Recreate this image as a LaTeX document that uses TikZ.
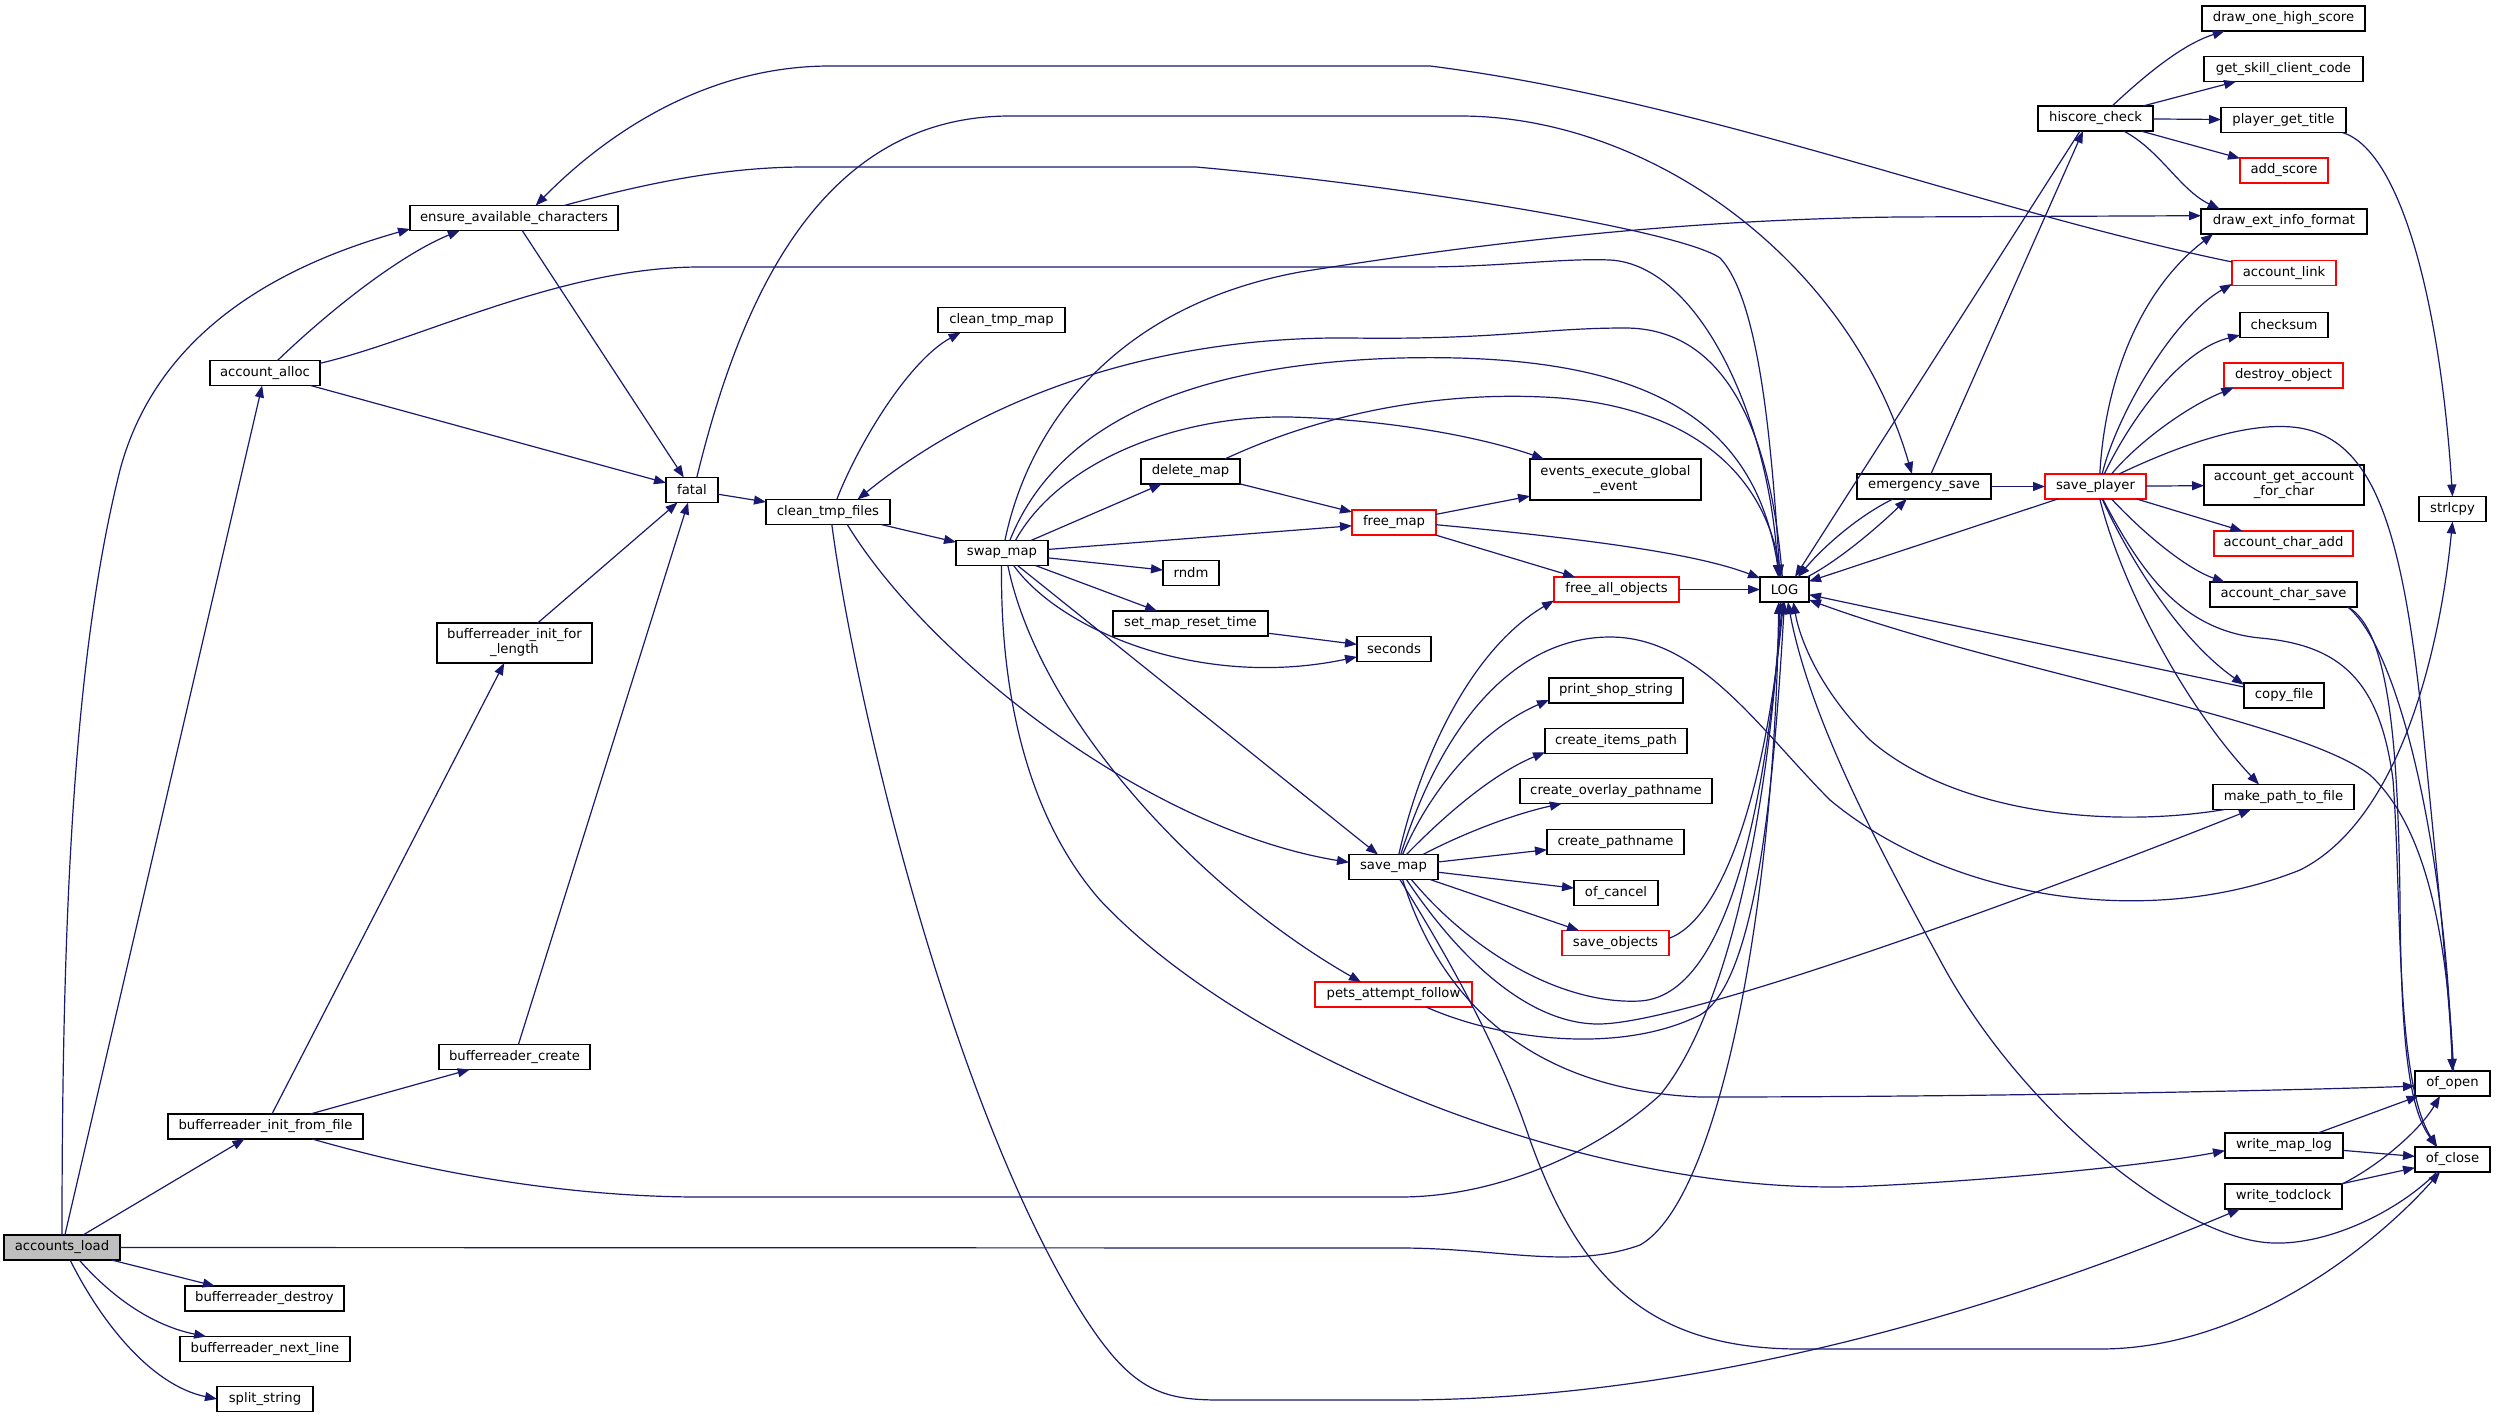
\documentclass[tikz,border=0pt]{standalone}
\usepackage{fontspec}
\newfontfamily\dvs{DejaVu Sans}
\usetikzlibrary{arrows.meta}
\definecolor{edgecol}{HTML}{191970}
\definecolor{boxgray}{HTML}{BFBFBF}
\definecolor{boxred}{HTML}{FF0000}
\tikzset{
 fnbox/.style={draw=black, line width=0.7pt, fill=white, rectangle, inner sep=0pt, outer sep=0pt, minimum height=12.5pt, align=center, font=\dvs\fontsize{6.6}{7.5}\selectfont},
 fnred/.style={fnbox, draw=boxred},
 call/.style={draw=edgecol, line width=0.6pt, -{Triangle[length=6pt,width=4.5pt]}},
}
\begin{document}
\begin{tikzpicture}[x=0.5pt,y=-0.5pt]
\useasboundingbox (0,0) rectangle (2496,1419);
\fill[white] (0,0) rectangle (2496,1419);
% nodes
\node[fnbox, fill=boxgray, minimum width=58pt] (AL) at (62,1247.5) {accounts\_load};
\node[fnbox, minimum width=55pt] (AA) at (265,373) {account\_alloc};
\node[fnbox, minimum width=104pt] (EAC) at (514,218) {ensure\_available\_characters};
\node[fnbox, minimum width=26pt] (FA) at (692,490) {fatal};
\node[fnbox, minimum width=77.5pt, minimum height=20pt] (BIL) at (514.5,643) {bufferreader\_init\_for\\\_length};
\node[fnbox, minimum width=75.5pt] (BC) at (514.5,1057) {bufferreader\_create};
\node[fnbox, minimum width=97.5pt] (BIF) at (265.5,1126.5) {bufferreader\_init\_from\_file};
\node[fnbox, minimum width=79.5pt] (BD) at (264.5,1298.5) {bufferreader\_destroy};
\node[fnbox, minimum width=85pt] (BN) at (265,1349) {bufferreader\_next\_line};
\node[fnbox, minimum width=48pt] (SS) at (265,1399) {split\_string};
\node[fnbox, minimum width=62pt] (CTF) at (828,512) {clean\_tmp\_files};
\node[fnbox, minimum width=63.5pt] (CTM) at (1001.5,320) {clean\_tmp\_map};
\node[fnbox, minimum width=46pt] (SWM) at (1002,553) {swap\_map};
\node[fnbox, minimum width=49.5pt] (DM) at (1190.5,471.5) {delete\_map};
\node[fnbox, minimum width=85.5pt, minimum height=20.5pt] (EEG) at (1615.5,479.5) {events\_execute\_global\\\_event};
\node[fnred, minimum width=42pt] (FM) at (1394,522.5) {free\_map};
\node[fnbox, minimum width=28pt] (RN) at (1191,573) {rndm};
\node[fnbox, minimum width=77.5pt] (SMR) at (1190.5,623.5) {set\_map\_reset\_time};
\node[fnbox, minimum width=37pt] (SEC) at (1394,649) {seconds};
\node[fnred, minimum width=62.5pt] (FAO) at (1616.5,589.5) {free\_all\_objects};
\node[fnbox, minimum width=67pt] (PSS) at (1616,690.5) {print\_shop\_string};
\node[fnbox, minimum width=71pt] (CIP) at (1616,741) {create\_items\_path};
\node[fnbox, minimum width=96pt] (COP) at (1616,791) {create\_overlay\_pathname};
\node[fnbox, minimum width=68.5pt] (CP) at (1615.5,842) {create\_pathname};
\node[fnbox, minimum width=42pt] (OC) at (1616,893) {of\_cancel};
\node[fnred, minimum width=53.5pt] (SO) at (1615.5,943) {save\_objects};
\node[fnbox, minimum width=44.5pt] (SM) at (1393.5,867) {save\_map};
\node[fnred, minimum width=78.5pt] (PAF) at (1393.5,994.5) {pets\_attempt\_follow};
\node[fnbox, minimum width=24.5pt] (LOG) at (1784.5,589.5) {LOG};
\node[fnbox, minimum width=67pt] (ES) at (1924,486.5) {emergency\_save};
\node[fnbox, minimum width=57.5pt] (HC) at (2095.5,118.5) {hiscore\_check};
\node[fnred, minimum width=50.5pt] (SP) at (2095.5,486.5) {save\_player};
\node[fnbox, minimum width=81.5pt] (DOHS) at (2283.5,18.5) {draw\_one\_high\_score};
\node[fnbox, minimum width=79.5pt] (GSCC) at (2283.5,69) {get\_skill\_client\_code};
\node[fnbox, minimum width=62.5pt] (PGT) at (2283.5,120) {player\_get\_title};
\node[fnred, minimum width=44pt] (ADS) at (2284,170.5) {add\_score};
\node[fnbox, minimum width=83pt] (DEIF) at (2284,221.5) {draw\_ext\_info\_format};
\node[fnred, minimum width=52pt] (ALK) at (2284,273) {account\_link};
\node[fnbox, minimum width=44pt] (CS) at (2284,325) {checksum};
\node[fnred, minimum width=59.5pt] (DO) at (2283.5,375.5) {destroy\_object};
\node[fnbox, minimum width=80pt, minimum height=20pt] (AGA) at (2284,485) {account\_get\_account\\\_for\_char};
\node[fnred, minimum width=69.5pt] (ACA) at (2283.5,543.5) {account\_char\_add};
\node[fnbox, minimum width=73.5pt] (ACS) at (2283.5,594.5) {account\_char\_save};
\node[fnbox, minimum width=40pt] (CF) at (2284,695.5) {copy\_file};
\node[fnbox, minimum width=70.5pt] (MPF) at (2283.5,797) {make\_path\_to\_file};
\node[fnbox, minimum width=59pt] (WML) at (2284,1145.5) {write\_map\_log};
\node[fnbox, minimum width=58.5pt] (WTC) at (2283.5,1196.5) {write\_todclock};
\node[fnbox, minimum width=33.5pt] (STR) at (2452.5,509) {strlcpy};
\node[fnbox, minimum width=37.5pt] (OO) at (2452.5,1083.5) {of\_open};
\node[fnbox, minimum width=37.5pt] (OCL) at (2452.5,1159.5) {of\_close};
% edges from accounts_load
\draw[call] (AL) -- (AA);
\draw[call] (AL.north) .. controls (62,900) and (75,650) .. (120,470) .. controls (160,320) and (300,260) .. (EAC.186);
\draw[call] (AL) -- (BIF);
\draw[call] (AL.east) -- (1400,1248) .. controls (1500,1248) and (1570,1270) .. (1640,1245) .. controls (1720,1200) and (1775,900) .. (LOG.-115);
\draw[call] (AL) -- (BD);
\draw[call] (AL.-36) .. controls (110,1295) and (150,1325) .. (BN.168);
\draw[call] (AL.-57) .. controls (100,1320) and (150,1385) .. (SS.west);
% account_alloc
\draw[call] (AA.45) .. controls (330,310) and (400,255) .. (EAC.193);
\draw[call] (AA) -- (FA);
\draw[call] (AA.10) .. controls (420,340) and (560,267) .. (700,267) -- (1420,267) .. controls (1500,267) and (1560,258) .. (1610,260) .. controls (1700,265) and (1770,420) .. (LOG.117);
% ensure_available_characters
\draw[call] (EAC) -- (FA);
\draw[call] (EAC.14) .. controls (640,185) and (720,167) .. (805,167) -- (1196,167) .. controls (1400,185) and (1680,230) .. (1720,258) .. controls (1760,300) and (1772,450) .. (LOG.110);
% fatal
\draw[call] (FA) -- (CTF);
\draw[call] (FA.69) .. controls (740,300) and (820,116) .. (1010,116) -- (1460,116) .. controls (1650,116) and (1850,260) .. (ES.134);
% bufferreader
\draw[call] (BIL) -- (FA);
\draw[call] (BIF) -- (BIL);
\draw[call] (BIF) -- (BC);
\draw[call] (BIF.-15) .. controls (420,1170) and (560,1197) .. (700,1197) -- (1400,1197) .. controls (1500,1197) and (1600,1150) .. (1660,1095) .. controls (1730,1010) and (1770,800) .. (LOG.-108);
\draw[call] (BC) -- (FA);
% clean_tmp_files
\draw[call] (CTF.55) .. controls (860,440) and (910,360) .. (CTM.197);
\draw[call] (CTF) -- (SWM);
\draw[call] (CTF.-33) .. controls (930,660) and (1150,830) .. (SM.174);
\draw[call] (CTF.-73) .. controls (855,700) and (950,1100) .. (1080,1310) .. controls (1130,1390) and (1160,1400) .. (1220,1400) -- (1400,1400) .. controls (1700,1400) and (2000,1310) .. (WTC.196);
% swap_map
\draw[call] (SWM) -- (DM);
\draw[call] (SWM) -- (FM);
\draw[call] (SWM) -- (RN);
\draw[call] (SWM) -- (SMR);
\draw[call] (SWM.-47) .. controls (1060,630) and (1200,690) .. (SEC.192);
\draw[call] (SWM) -- (SM);
\draw[call] (SWM.-65) .. controls (1040,720) and (1200,890) .. (PAF.159);
\draw[call] (SWM.-92) .. controls (1000,700) and (1030,820) .. (1100,900) .. controls (1250,1060) and (1600,1200) .. (1870,1186) .. controls (2000,1180) and (2150,1165) .. (WML.185);
\draw[call] (SWM.58) .. controls (1050,440) and (1160,365) .. (1400,358) .. controls (1650,352) and (1755,420) .. (LOG.112);
\draw[call] (SWM.43) .. controls (1060,460) and (1180,415) .. (1290,417) .. controls (1400,420) and (1490,440) .. (EEG.164);
\draw[call] (SWM.77) .. controls (1030,420) and (1120,305) .. (1300,272) .. controls (1500,240) and (1700,219) .. (1900,217) -- (DEIF.176);
% delete_map, free_map
\draw[call] (DM) -- (FM);
\draw[call] (DM.20) .. controls (1330,410) and (1450,390) .. (1560,398) .. controls (1700,410) and (1765,480) .. (LOG.105);
\draw[call] (FM) -- (EEG);
\draw[call] (FM) -- (FAO);
\draw[call] (FM.-3) .. controls (1600,540) and (1700,555) .. (LOG.155);
\draw[call] (FAO) -- (LOG);
\draw[call] (SMR) -- (SEC);
% save_map
\draw[call] (SM.67) .. controls (1420,760) and (1470,650) .. (FAO.190);
\draw[call] (SM.60) .. controls (1450,700) and (1530,637) .. (1610,637) .. controls (1700,637) and (1760,730) .. (1830,800) .. controls (1950,900) and (2150,930) .. (2300,870) .. controls (2400,820) and (2440,650) .. (STR.south);
\draw[call] (SM.54) .. controls (1430,790) and (1480,730) .. (PSS.188);
\draw[call] (SM.44) .. controls (1440,820) and (1490,775) .. (CIP.189);
\draw[call] (SM.23) .. controls (1460,835) and (1510,815) .. (COP.193);
\draw[call] (SM) -- (CP);
\draw[call] (SM) -- (OC);
\draw[call] (SM) -- (SO);
\draw[call] (SM.-35) .. controls (1470,950) and (1560,1005) .. (1640,1001) .. controls (1740,995) and (1770,750) .. (LOG.-100);
\draw[call] (SM.-44) .. controls (1460,960) and (1530,1025) .. (1600,1024) .. controls (1700,1022) and (2100,870) .. (MPF.201);
\draw[call] (SM.-54) .. controls (1440,1000) and (1530,1090) .. (1700,1097) .. controls (2000,1097) and (2300,1090) .. (OO.184);
\draw[call] (SM.-63) .. controls (1450,960) and (1500,1050) .. (1530,1140) .. controls (1580,1280) and (1650,1349) .. (1800,1349) -- (2100,1349) .. controls (2250,1349) and (2380,1240) .. (OCL.225);
\draw[call] (SO.5) .. controls (1720,920) and (1765,800) .. (LOG.-95);
\draw[call] (PAF.-21) .. controls (1500,1040) and (1620,1055) .. (1700,1015) .. controls (1760,980) and (1775,760) .. (LOG.-90);
% LOG and emergency_save
\draw[call] (LOG.100) .. controls (1770,420) and (1720,328) .. (1625,328) .. controls (1540,328) and (1500,340) .. (1350,338) .. controls (1150,336) and (980,400) .. (CTF.23);
\draw[call] (LOG.29) .. controls (1840,560) and (1880,525) .. (ES.216);
\draw[call] (ES.202) .. controls (1860,515) and (1825,545) .. (LOG.43);
\draw[call] (ES) -- (SP);
\draw[call] (ES.61) -- (HC.225);
% hiscore_check
\draw[call] (HC.219) -- (LOG.50);
\draw[call] (HC.37) .. controls (2140,80) and (2180,45) .. (DOHS.192);
\draw[call] (HC) -- (GSCC);
\draw[call] (HC) -- (PGT);
\draw[call] (HC) -- (ADS);
\draw[call] (HC.-24) .. controls (2160,150) and (2180,190) .. (DEIF.169);
\draw[call] (PGT.-12) .. controls (2400,150) and (2440,300) .. (STR.north);
% save_player
\draw[call] (SP) -- (LOG);
\draw[call] (SP.71) .. controls (2105,380) and (2140,290) .. (DEIF.190);
\draw[call] (SP.62) .. controls (2115,420) and (2170,320) .. (ALK.192);
\draw[call] (SP.55) .. controls (2130,420) and (2180,350) .. (CS.193);
\draw[call] (SP.38) .. controls (2140,440) and (2190,405) .. (DO.194);
\draw[call] (SP) -- (AGA);
\draw[call] (SP) -- (ACA);
\draw[call] (SP.-38) .. controls (2150,540) and (2190,570) .. (ACS.168);
\draw[call] (SP.-62) .. controls (2130,560) and (2180,640) .. (CF.165);
\draw[call] (SP.-71) .. controls (2120,580) and (2180,700) .. (MPF.153);
\draw[call] (SP.28) .. controls (2180,445) and (2250,420) .. (2300,428) .. controls (2370,440) and (2400,520) .. (2420,700) .. controls (2435,850) and (2450,1000) .. (OO.north);
\draw[call] (SP.-60) .. controls (2140,570) and (2180,630) .. (2260,638) .. controls (2340,645) and (2380,680) .. (2393,780) .. controls (2402,900) and (2395,1080) .. (OCL.141);
% account_char_save
\draw[call] (ACS.-11) .. controls (2400,650) and (2445,850) .. (OO.north);
\draw[call] (ACS.-11) .. controls (2390,630) and (2398,750) .. (2400,900) .. controls (2401,1050) and (2410,1110) .. (OCL.141);
% others into LOG
\draw[call] (CF) -- (LOG);
\draw[call] (MPF.192) .. controls (2100,830) and (1950,810) .. (1870,740) .. controls (1820,690) and (1800,640) .. (LOG.-55);
\draw[call] (OO.85) .. controls (2448,950) and (2430,830) .. (2370,775) .. controls (2300,720) and (2000,670) .. (LOG.-23);
\draw[call] (OCL.219) .. controls (2400,1210) and (2330,1245) .. (2273,1243) .. controls (2180,1240) and (2020,1110) .. (1940,960) .. controls (1880,850) and (1810,720) .. (LOG.-75);
% write_*
\draw[call] (WML) -- (OO);
\draw[call] (WML) -- (OCL);
\draw[call] (WTC.12) .. controls (2380,1165) and (2420,1130) .. (OO.225);
\draw[call] (WTC) -- (OCL);
% account_link
\draw[call] (ALK.168) .. controls (1980,210) and (1700,100) .. (1430,66) -- (830,66) .. controls (700,66) and (600,140) .. (EAC.30);
\end{tikzpicture}
\end{document}
